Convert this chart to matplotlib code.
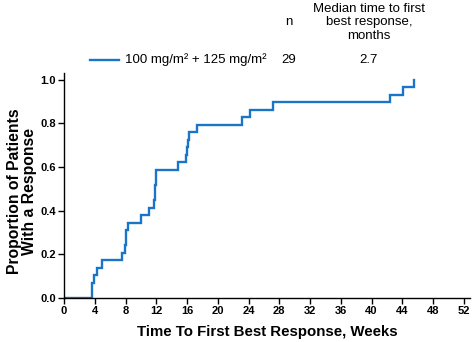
import matplotlib
matplotlib.use("Agg")
import matplotlib.pyplot as plt
import numpy as np

plt.rcParams['font.family'] = ['Liberation Sans', 'DejaVu Sans']

# event times (weeks) of first best response, one entry per patient
response_weeks = [3.7, 3.7, 3.9, 4.3, 4.9,
                  7.6, 7.9, 8.0, 8.1, 8.3,
                  10.0, 11.0, 11.7, 11.8, 11.9, 12.0, 12.0,
                  14.8, 15.9, 16.0, 16.1, 16.3, 17.3,
                  23.1, 24.2, 27.2, 42.4, 44.1, 45.5]
n_patients = 29
group_label = "100 mg/m\u00b2 + 125 mg/m\u00b2"
median_months = "2.7"
x_ticks = list(range(0, 53, 4))
y_ticks = [0.0, 0.2, 0.4, 0.6, 0.8, 1.0]

blue = "#1a75c8"

# build step curve
times = np.array(response_weeks)
cum = np.arange(1, len(times) + 1) / n_patients
xs = np.concatenate([[0], times])
ys = np.concatenate([[0], cum])

fig = plt.figure(figsize=(4.72, 3.42), dpi=100)
ax = fig.add_axes([0.1356, 0.1287, 0.860, 0.658])

ax.step(xs, ys, where='post', color=blue, lw=1.7, solid_joinstyle='miter')

ax.set_xlim(0, 52.8)
ax.set_ylim(0, 1.03)
ax.set_xticks(x_ticks)
ax.set_yticks(y_ticks)
ax.set_yticklabels([f"{v:.1f}" for v in y_ticks])
for s in ['top', 'right']:
    ax.spines[s].set_visible(False)
for s in ['left', 'bottom']:
    ax.spines[s].set_linewidth(1.0)
ax.tick_params(direction='out', length=4, width=1.0, pad=2, labelsize=8)
for lab in ax.get_xticklabels() + ax.get_yticklabels():
    lab.set_fontweight('bold')

ax.set_xlabel("Time To First Best Response, Weeks", fontsize=10.8,
              fontweight='bold', labelpad=6)
ax.set_ylabel("Proportion of Patients\nWith a Response", fontsize=11.3,
              fontweight='bold', linespacing=1.0, va='center')
ax.yaxis.set_label_coords(-0.103, 0.475)

# legend / table header at the top
fs = 9.5
fig.text(289 / 472, 1 - 22 / 342, "n", ha='center', va='center', fontsize=fs)
fig.text(369 / 472, 1 - 22.5 / 342, "Median time to first\nbest response,\nmonths",
         ha='center', va='center', fontsize=fs, linespacing=1.2)
fig.add_artist(plt.Line2D([90 / 472, 119 / 472], [1 - 60 / 342, 1 - 60 / 342],
                          color=blue, lw=1.7))
fig.text(125 / 472, 1 - 60 / 342, group_label, ha='left', va='center', fontsize=fs)
fig.text(289 / 472, 1 - 60 / 342, str(n_patients), ha='center', va='center', fontsize=fs)
fig.text(369 / 472, 1 - 60 / 342, median_months, ha='center', va='center', fontsize=fs)

fig.savefig("out.png", dpi=100)
